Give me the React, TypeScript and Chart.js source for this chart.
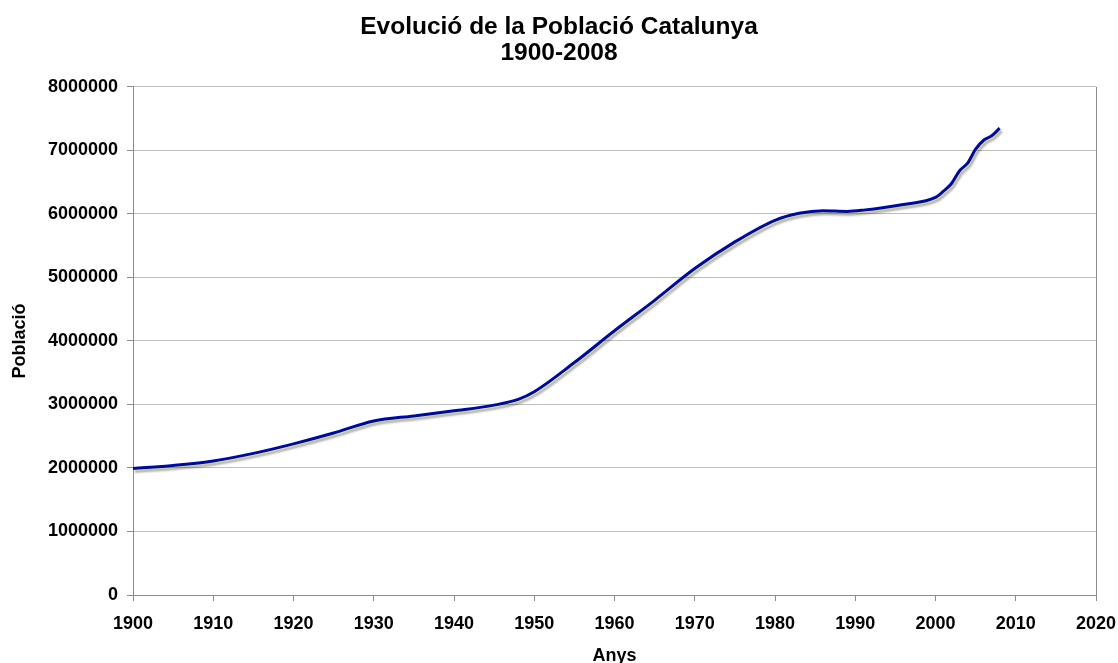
import React, { useEffect, useRef } from "react";
import { Chart, registerables } from "chart.js";

Chart.register(...registerables);

const years = [1900, 1905, 1910, 1915, 1920, 1925, 1930, 1935, 1940, 1945, 1948, 1950, 1955, 1960, 1965, 1970, 1975, 1980, 1983, 1986, 1989, 1991, 1996, 2000, 2001, 2002, 2003, 2004, 2005, 2006, 2007, 2008];
const population = [1990000, 2040000, 2110000, 2230000, 2380000, 2550000, 2740000, 2820000, 2900000, 2990000, 3080000, 3200000, 3660000, 4160000, 4640000, 5140000, 5560000, 5900000, 6010000, 6050000, 6040000, 6060000, 6150000, 6260000, 6360000, 6480000, 6680000, 6800000, 7020000, 7160000, 7230000, 7350000];

const titleLines = ["Evolució de la Població Catalunya", "1900-2008"];
const xTitle = "Anys";
const yTitle = "Població";

const FONT = "'Liberation Sans', Arial, sans-serif";

const shadowPlugin = {
  id: "lineShadow",
  beforeDatasetDraw(chart: any) {
    const ctx = chart.ctx;
    ctx.save();
    ctx.shadowColor = "rgba(0,0,0,0.3)";
    ctx.shadowOffsetX = 2;
    ctx.shadowOffsetY = 3;
    ctx.shadowBlur = 2;
  },
  afterDatasetDraw(chart: any) {
    chart.ctx.restore();
  },
};

const borderPlugin = {
  id: "plotBorder",
  beforeDatasetsDraw(chart: any) {
    const { ctx, chartArea } = chart;
    ctx.save();
    ctx.strokeStyle = "#8c8c8c";
    ctx.lineWidth = 1;
    ctx.beginPath();
    ctx.moveTo(Math.round(chartArea.right) + 0.5, chartArea.top);
    ctx.lineTo(Math.round(chartArea.right) + 0.5, chartArea.bottom);
    ctx.stroke();
    ctx.restore();
  },
};

export default function App() {
  const ref = useRef<HTMLCanvasElement>(null);
  useEffect(() => {
    if (!ref.current) return;
    const chart = new Chart(ref.current, {
      type: "line",
      data: {
        datasets: [
          {
            data: years.map((y, i) => ({ x: y, y: population[i] })),
            borderColor: "#000c8c",
            borderWidth: 3,
            pointRadius: 0,
            fill: false,
            cubicInterpolationMode: "monotone",
          },
        ],
      },
      options: {
        responsive: false,
        animation: false,
        layout: { padding: { left: 22, right: 22, top: 0, bottom: 0 } },
        plugins: {
          legend: { display: false },
          tooltip: { enabled: false },
          title: {
            display: true,
            text: titleLines,
            color: "#000",
            font: { family: FONT, size: 24.5, weight: "bold", lineHeight: 1.08 },
            padding: { top: 14, bottom: 20 },
          },
        },
        scales: {
          x: {
            type: "linear",
            min: 1900,
            max: 2020,
            afterFit: (s: any) => {
              s.height = 68;
              s.paddingLeft = 0;
              s.paddingRight = 0;
            },
            ticks: {
              stepSize: 10,
              color: "#000",
              font: { family: FONT, size: 18, weight: "bold" },
              padding: 12,
              maxRotation: 0,
              callback: (v: any) => String(v),
            },
            grid: { drawOnChartArea: false, drawTicks: true, tickLength: 6, tickColor: "#8c8c8c" },
            border: { color: "#8c8c8c", width: 1 },
            title: {
              display: true,
              text: xTitle,
              color: "#000",
              font: { family: FONT, size: 18, weight: "bold", lineHeight: 1 },
              padding: { top: 0, bottom: -2 },
            },
          },
          y: {
            min: 0,
            max: 8000000,
            afterFit: (s: any) => {
              s.width = 111;
              s.paddingTop = 0;
              s.paddingBottom = 0;
            },
            ticks: {
              stepSize: 1000000,
              color: "#000",
              font: { family: FONT, size: 18, weight: "bold" },
              padding: 9,
              callback: (v: any) => String(v),
            },
            grid: { color: "#bdbdbd", lineWidth: 1, drawTicks: true, tickLength: 6, tickColor: "#8c8c8c" },
            border: { color: "#8c8c8c", width: 1 },
            title: {
              display: true,
              text: yTitle,
              color: "#000",
              font: { family: FONT, size: 18, weight: "bold", lineHeight: 1 },
              padding: { top: -11, bottom: 0 },
            },
          },
        },
      },
      plugins: [shadowPlugin, borderPlugin],
    } as any);
    return () => chart.destroy();
  }, []);
  return (
    <canvas
      ref={ref}
      width={1118}
      height={663}
      style={{ position: "absolute", left: 0, top: 0, width: 1118, height: 663 }}
    />
  );
}
